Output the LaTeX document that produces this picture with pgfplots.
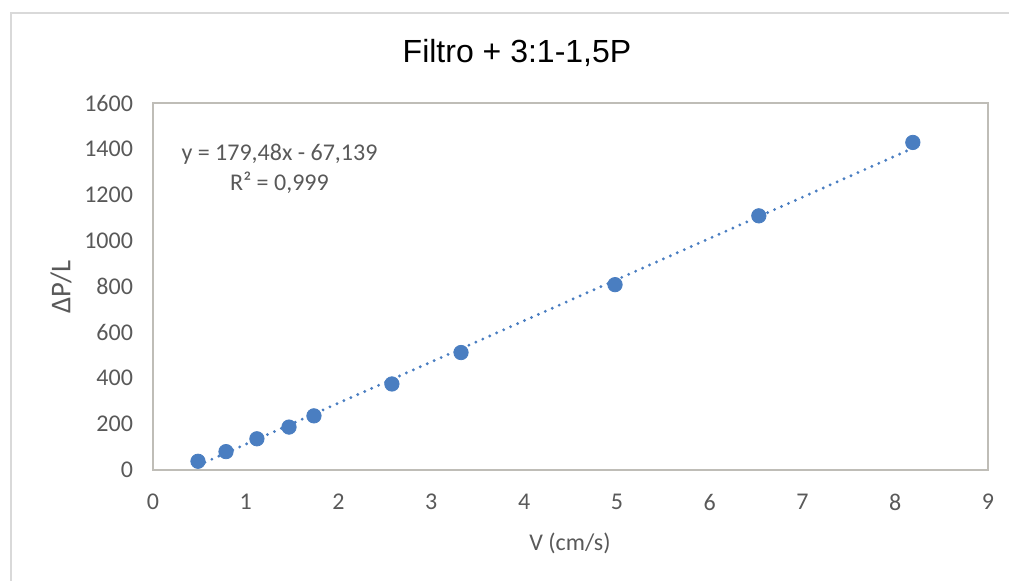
\documentclass[border=0pt]{standalone}
\usepackage{pgfplots}
\pgfplotsset{compat=1.18}
\usepackage{fontspec}
\setmainfont{Carlito}
\newfontfamily\arialf{Liberation Sans}
\definecolor{txt}{RGB}{89,89,89}
\definecolor{ptblue}{RGB}{74,126,193}
\definecolor{boxc}{RGB}{191,189,183}
\definecolor{frame}{RGB}{217,217,217}
\begin{document}
\begin{tikzpicture}
\useasboundingbox (0,0) rectangle (504.5pt,290.5pt);
\draw[frame, line width=0.8pt] (5.5pt,0) -- (5.5pt,284pt) -- (504.5pt,284pt);
\begin{axis}[
  at={(76.5pt,55.5pt)}, anchor=south west,
  scale only axis, width=417.5pt, height=183.5pt,
  xmin=0, xmax=9, ymin=0, ymax=1600,
  xtick={0,1,...,9}, ytick={0,200,...,1600},
  axis line style={boxc, line width=0.9pt},
  tick style={draw=none},
  /pgf/number format/assume math mode=true,
  /pgf/number format/set thousands separator={},
  ticklabel style={font=\fontsize{12}{14}\selectfont, text=txt},
  xticklabel style={yshift=-8.5pt},
  yticklabel style={xshift=-6.5pt},
  clip=false,
]
\addplot[ptblue, line width=1.6pt, line cap=round, dash pattern=on 0pt off 3.8pt]
  coordinates {(0.485,19.9) (8.19,1402.8)};
\addplot[only marks, mark=*, mark size=3.6pt, ptblue, mark options={draw=ptblue, fill=ptblue}]
  coordinates {
  (0.485,38) (0.787,80) (1.12,136) (1.466,187) (1.735,236)
  (2.575,375) (3.32,512) (4.98,808) (6.53,1108) (8.19,1428)
  };
\end{axis}
\node[text=black, font=\arialf\fontsize{16}{19}\selectfont] at (258.5pt,264pt) {Filtro + 3:1-1,5P};
\node[text=txt, font=\fontsize{12}{14}\selectfont] at (139.75pt,213.5pt) {y = 179,48x - 67,139};
\node[text=txt, font=\fontsize{12}{14}\selectfont] at (139.75pt,199pt) {R² = 0,999};
\node[text=txt, font=\fontsize{12}{14}\selectfont] at (285pt,19pt) {V (cm/s)};
\node[text=txt, font=\fontsize{14.3}{17}\selectfont, rotate=90] at (30.5pt,147pt) {ΔP/L};
\end{tikzpicture}
\end{document}
